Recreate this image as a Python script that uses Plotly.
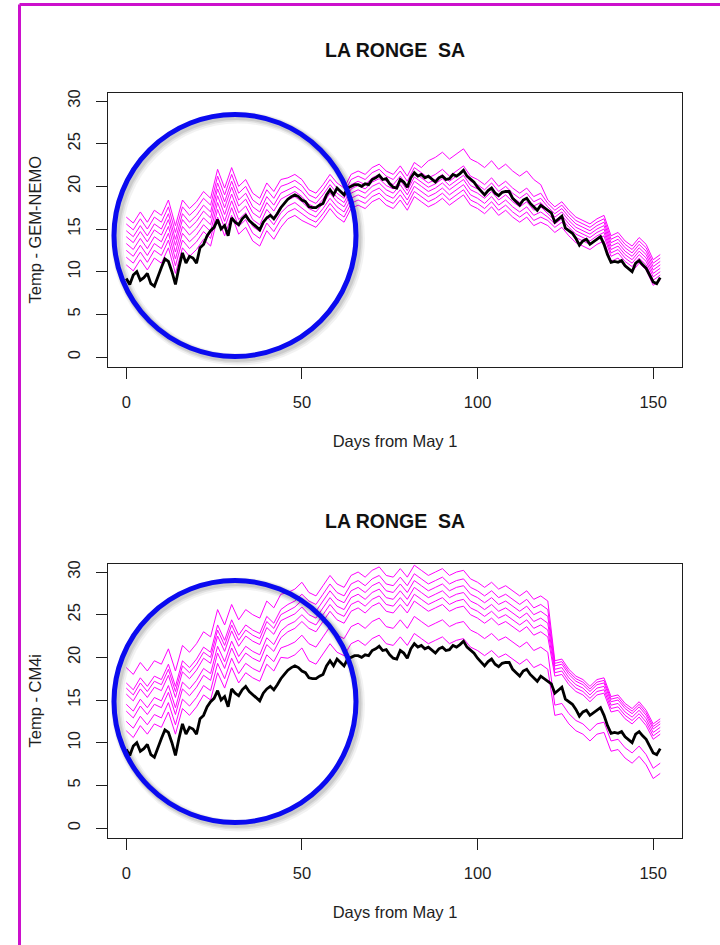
import plotly.graph_objects as go

W, H = 720, 945

# ---------------------------------------------------------------- data
STATION = "LA RONGE\u00a0\u00a0SA"
X_TITLE = "Days from May 1"
Y_TITLES = ["Temp - GEM-NEMO", "Temp - CM4i"]
X_TICKS = [0, 50, 100, 150]
Y_TICKS = [0, 5, 10, 15, 20, 25, 30]

# observed daily temperature, day 0 .. 152
days_obs = list(range(153))
obs_temp = [
    9.2, 8.5, 9.6, 10.0, 9.0, 9.3, 9.8, 8.6, 8.3, 9.5,
    10.5, 11.5, 11.2, 10.0, 8.5, 10.5, 12.2, 11.0, 11.8, 11.6,
    11.0, 12.8, 13.2, 14.2, 14.8, 15.2, 16.1, 15.0, 15.4, 14.2,
    16.3, 15.8, 15.5, 16.2, 16.6, 16.0, 15.6, 15.2, 14.9, 15.8,
    16.3, 16.6, 16.2, 16.8, 17.5, 18.0, 18.5, 18.8, 19.0, 18.8,
    18.4, 18.2, 17.6, 17.5, 17.5, 17.8, 18.0, 19.0, 19.6, 19.0,
    19.8, 19.4, 19.0, 19.8, 20.0, 20.2, 20.2, 20.0, 20.3, 20.2,
    20.8, 21.0, 21.3, 20.8, 20.9, 20.3, 19.9, 19.8, 20.8, 20.5,
    19.9, 21.0, 21.6, 21.2, 21.4, 21.0, 21.2, 20.8, 20.5, 21.0,
    21.2, 20.8, 20.9, 21.4, 21.2, 21.5, 21.9, 21.2, 20.8, 20.5,
    19.9, 19.4, 19.0, 19.5, 19.8, 19.2, 18.9, 19.3, 19.4, 19.4,
    18.6, 18.2, 17.8, 18.4, 18.6, 18.0, 17.6, 17.2, 17.8, 17.5,
    17.3, 16.9, 15.8, 16.2, 16.5, 15.1, 14.8, 14.5, 13.9, 13.1,
    13.6, 13.8, 13.2, 13.5, 13.9, 14.1, 13.2, 12.0, 11.1, 11.2,
    11.1, 11.3, 10.7, 10.4, 10.0, 11.0, 11.3, 10.8, 10.4, 9.6,
    8.8, 8.6, 9.3,
]

# ensemble members, every second day 0 .. 152
days_ens = list(range(0, 153, 2))

gem_nemo = [
    [16.4, 15.7, 17.0, 15.8, 17.2, 16.6, 18.4, 15.4, 18.4, 17.4, 18.2, 19.4, 18.6, 22.0, 19.8, 22.2, 20.0, 20.8, 19.2, 18.6, 20.4, 19.4, 20.8,
     21.0, 21.4, 20.8,
     19.6, 19.2, 20.2, 21.4, 20.4, 19.8, 21.4, 21.8, 21.4, 22.2, 22.6, 21.8, 21.4, 22.4, 21.2, 22.8, 22.2,
     23.0, 23.4, 24.0, 23.2, 23.8, 24.4, 23.2, 22.8, 22.2, 23.0, 22.0, 22.6, 21.8, 21.2, 21.8, 20.8, 20.2,
     18.4, 17.6, 18.2, 17.2, 16.4, 16.0, 15.6, 16.2, 16.6, 14.2, 14.6, 13.6, 13.0, 14.0, 13.2, 11.4, 12.0],
    [15.6, 14.9, 16.2, 15.0, 16.4, 15.8, 17.6, 14.6, 17.6, 16.6, 17.4, 18.6, 17.8, 21.2, 19.0, 21.4, 19.2, 20.0, 18.4, 17.8, 19.6, 18.6, 20.0,
     20.3, 20.7, 20.1,
     19.0, 18.6, 19.6, 20.8, 19.8, 19.2, 20.8, 21.2, 20.8, 21.6, 22.0, 21.2, 20.8, 21.8, 20.6, 22.2, 21.6,
     21.0, 21.4, 22.0, 21.2, 21.8, 22.4, 21.2, 20.8, 20.2, 21.0, 20.0, 20.6, 19.8, 19.2, 19.8, 18.8, 19.2,
     18.0, 17.2, 17.8, 16.8, 16.0, 15.6, 15.2, 15.8, 16.2, 13.8, 14.2, 13.2, 12.6, 13.6, 12.8, 11.0, 11.6],
    [14.8, 14.1, 15.4, 14.2, 15.6, 15.0, 16.8, 13.8, 16.8, 15.8, 16.6, 17.8, 17.0, 20.4, 18.2, 20.6, 18.4, 19.2, 17.6, 17.0, 18.8, 17.8, 19.2,
     19.6, 20.0, 19.4,
     18.4, 18.0, 19.0, 20.2, 19.2, 18.6, 20.2, 20.6, 20.2, 21.0, 21.4, 20.6, 20.2, 21.2, 20.0, 21.6, 21.0,
     20.4, 20.8, 21.4, 20.6, 21.2, 21.8, 20.6, 20.2, 19.6, 20.4, 19.4, 20.0, 19.2, 18.6, 19.2, 18.2, 18.6,
     17.6, 16.8, 17.4, 16.4, 15.6, 15.2, 14.8, 15.4, 15.8, 13.4, 13.8, 12.8, 12.2, 13.2, 12.4, 10.6, 11.2],
    [14.1, 13.4, 14.7, 13.5, 14.9, 14.3, 16.1, 13.1, 16.1, 15.1, 15.9, 17.1, 16.3, 19.7, 17.5, 19.9, 17.7, 18.5, 16.9, 16.3, 18.1, 17.1, 18.5,
     19.0, 19.4, 18.8,
     17.9, 17.5, 18.5, 19.7, 18.7, 18.1, 19.7, 20.1, 19.7, 20.5, 20.9, 20.1, 19.7, 20.7, 19.5, 21.1, 20.5,
     19.9, 20.3, 20.9, 20.1, 20.7, 21.3, 20.1, 19.7, 19.1, 19.9, 18.9, 19.5, 18.7, 18.1, 18.7, 17.7, 18.1,
     17.2, 16.4, 17.0, 16.0, 15.2, 14.8, 14.4, 15.0, 15.4, 13.0, 13.4, 12.4, 11.8, 12.8, 12.0, 10.2, 10.8],
    [13.3, 12.6, 13.9, 12.7, 14.1, 13.5, 15.3, 12.3, 15.3, 14.3, 15.1, 16.3, 15.5, 18.9, 16.7, 19.1, 16.9, 17.7, 16.1, 15.5, 17.3, 16.3, 17.7,
     18.4, 18.8, 18.2,
     17.4, 17.0, 18.0, 19.2, 18.2, 17.6, 19.2, 19.6, 19.2, 20.0, 20.4, 19.6, 19.2, 20.2, 19.0, 20.6, 20.0,
     19.4, 19.8, 20.4, 19.6, 20.2, 20.8, 19.6, 19.2, 18.6, 19.4, 18.4, 19.0, 18.2, 17.6, 18.2, 17.2, 17.6,
     16.8, 16.0, 16.6, 15.6, 14.8, 14.4, 14.0, 14.6, 15.0, 12.6, 13.0, 12.0, 11.4, 12.4, 11.6, 9.8, 10.4],
    [12.5, 11.8, 13.1, 11.9, 13.3, 12.7, 14.5, 11.5, 14.5, 13.5, 14.3, 15.5, 14.7, 18.1, 15.9, 18.3, 16.1, 16.9, 15.3, 14.7, 16.5, 15.5, 16.9,
     17.7, 18.1, 17.5,
     16.8, 16.4, 17.4, 18.6, 17.6, 17.0, 18.6, 19.0, 18.6, 19.4, 19.8, 19.0, 18.6, 19.6, 18.4, 20.0, 19.4,
     18.8, 19.2, 19.8, 19.0, 19.6, 20.2, 19.0, 18.6, 18.0, 18.8, 17.8, 18.4, 17.6, 17.0, 17.6, 16.6, 17.0,
     16.4, 15.6, 16.2, 15.2, 14.4, 14.0, 13.6, 14.2, 14.6, 12.2, 12.6, 11.6, 11.0, 12.0, 11.2, 9.4, 10.0],
    [11.7, 11.0, 12.3, 11.1, 12.5, 11.9, 13.7, 10.7, 13.7, 12.7, 13.5, 14.7, 13.9, 17.3, 15.1, 17.5, 15.3, 16.1, 14.5, 13.9, 15.7, 14.7, 16.1,
     17.0, 17.4, 16.8,
     16.2, 15.8, 16.8, 18.0, 17.0, 16.4, 18.0, 18.4, 18.0, 18.8, 19.2, 18.4, 18.0, 19.0, 17.8, 19.4, 18.8,
     18.2, 18.6, 19.2, 18.4, 19.0, 19.6, 18.4, 18.0, 17.4, 18.2, 17.2, 17.8, 17.0, 16.4, 17.0, 16.0, 16.4,
     16.0, 15.2, 15.8, 14.8, 14.0, 13.6, 13.2, 13.8, 14.2, 11.8, 12.2, 11.2, 10.6, 11.6, 10.8, 9.0, 9.6],
    [10.8, 10.1, 11.4, 10.2, 11.6, 11.0, 12.8, 9.8, 12.8, 11.8, 12.6, 13.8, 13.0, 16.4, 14.2, 16.6, 14.4, 15.2, 13.6, 13.0, 14.8, 13.8, 15.2,
     16.2, 16.6, 16.0,
     15.6, 15.2, 16.2, 17.4, 16.4, 15.8, 17.4, 17.8, 17.4, 18.2, 18.6, 17.8, 17.4, 18.4, 17.2, 18.8, 18.2,
     17.6, 18.0, 18.6, 17.8, 18.4, 19.0, 17.8, 17.4, 16.8, 17.6, 16.6, 17.2, 16.4, 15.8, 16.4, 15.4, 15.8,
     15.4, 14.6, 15.2, 14.2, 13.4, 13.0, 12.6, 13.2, 13.6, 11.2, 11.6, 10.6, 10.0, 11.0, 10.2, 8.4, 9.0],
]

cm4i = [
    [18.8, 18.0, 19.4, 18.4, 19.6, 19.2, 21.0, 18.4, 21.4, 20.6, 21.6, 23.0, 22.4, 25.6, 23.8, 26.2, 24.4, 25.6, 25.0, 24.6, 26.6, 25.8, 27.4,
     27.6, 28.0, 28.8,
     27.6, 27.2, 28.4, 29.6, 28.6, 28.2, 29.6, 30.0, 29.4, 30.2, 30.6, 29.6, 29.4, 30.4, 29.4, 30.8, 30.2,
     29.6, 30.0, 30.4, 29.6, 30.0, 30.2, 29.2, 28.8, 28.2, 28.8, 28.0, 28.4, 27.8, 27.2, 27.8, 26.8, 27.2,
     26.6, 19.6, 19.8, 18.6, 17.8, 17.4, 16.6, 17.4, 17.6, 15.4, 15.6, 14.6, 14.0, 14.8, 13.8, 12.2, 12.8],
    [17.0, 16.2, 17.6, 16.6, 17.8, 17.4, 19.2, 16.6, 19.6, 18.8, 19.8, 21.2, 20.6, 23.8, 22.0, 24.4, 22.6, 23.8, 23.2, 22.8, 24.8, 24.0, 25.6,
     26.2, 26.6, 27.4,
     26.6, 26.2, 27.4, 28.6, 27.6, 27.2, 28.6, 29.0, 28.4, 29.2, 29.6, 28.6, 28.4, 29.4, 28.4, 29.8, 29.2,
     28.6, 29.0, 29.4, 28.6, 29.0, 29.2, 28.2, 27.8, 27.2, 27.8, 27.0, 27.4, 26.8, 26.2, 26.8, 25.8, 26.2,
     25.6, 19.3, 19.5, 18.3, 17.5, 17.1, 16.3, 17.1, 17.3, 15.1, 15.3, 14.3, 13.7, 14.5, 13.5, 11.9, 12.5],
    [16.4, 15.6, 17.0, 16.0, 17.2, 16.8, 18.6, 16.0, 19.0, 18.2, 19.2, 20.6, 20.0, 23.2, 21.4, 23.8, 22.0, 23.2, 22.6, 22.2, 24.2, 23.4, 25.0,
     25.5, 25.9, 26.7,
     25.8, 25.4, 26.6, 27.8, 26.8, 26.4, 27.8, 28.2, 27.6, 28.4, 28.8, 27.8, 27.6, 28.6, 27.6, 29.0, 28.4,
     27.8, 28.2, 28.6, 27.8, 28.2, 28.4, 27.4, 27.0, 26.4, 27.0, 26.2, 26.6, 26.0, 25.4, 26.0, 25.0, 25.4,
     24.8, 19.0, 19.2, 18.0, 17.2, 16.8, 16.0, 16.8, 17.0, 14.8, 15.0, 14.0, 13.4, 14.2, 13.2, 11.6, 12.2],
    [15.7, 14.9, 16.3, 15.3, 16.5, 16.1, 17.9, 15.3, 18.3, 17.5, 18.5, 19.9, 19.3, 22.5, 20.7, 23.1, 21.3, 22.5, 21.9, 21.5, 23.5, 22.7, 24.3,
     24.7, 25.1, 25.9,
     25.0, 24.6, 25.8, 27.0, 26.0, 25.6, 27.0, 27.4, 26.8, 27.6, 28.0, 27.0, 26.8, 27.8, 26.8, 28.2, 27.6,
     27.0, 27.4, 27.8, 27.0, 27.4, 27.6, 26.6, 26.2, 25.6, 26.2, 25.4, 25.8, 25.2, 24.6, 25.2, 24.2, 24.6,
     24.0, 18.6, 18.8, 17.6, 16.8, 16.4, 15.6, 16.4, 16.6, 14.4, 14.6, 13.6, 13.0, 13.8, 12.8, 11.2, 11.8],
    [14.5, 13.7, 15.1, 14.1, 15.3, 14.9, 16.7, 14.1, 17.1, 16.3, 17.3, 18.7, 18.1, 21.3, 19.5, 21.9, 20.1, 21.3, 20.7, 20.3, 22.3, 21.5, 23.1,
     23.8, 24.2, 25.0,
     24.2, 23.8, 25.0, 26.2, 25.2, 24.8, 26.2, 26.6, 26.0, 26.8, 27.2, 26.2, 26.0, 27.0, 26.0, 27.4, 26.8,
     26.2, 26.6, 27.0, 26.2, 26.6, 26.8, 25.8, 25.4, 24.8, 25.4, 24.6, 25.0, 24.4, 23.8, 24.4, 23.4, 23.8,
     23.2, 18.2, 18.4, 17.2, 16.4, 16.0, 15.2, 16.0, 16.2, 14.0, 14.2, 13.2, 12.6, 13.4, 12.4, 10.8, 11.4],
    [13.7, 12.9, 14.3, 13.3, 14.5, 14.1, 15.9, 13.3, 16.3, 15.5, 16.5, 17.9, 17.3, 20.5, 18.7, 21.1, 19.3, 20.5, 19.9, 19.5, 21.5, 20.7, 22.3,
     23.0, 23.4, 24.2,
     23.4, 23.0, 24.2, 25.4, 24.4, 24.0, 25.4, 25.8, 25.2, 26.0, 26.4, 25.4, 25.2, 26.2, 25.2, 26.6, 26.0,
     25.4, 25.8, 26.2, 25.4, 25.8, 26.0, 25.0, 24.6, 24.0, 24.6, 23.8, 24.2, 23.6, 23.0, 23.6, 22.6, 23.0,
     22.4, 17.8, 18.0, 16.8, 16.0, 15.6, 14.8, 15.6, 15.8, 13.6, 13.8, 12.8, 12.2, 13.0, 12.0, 10.4, 11.0],
    [12.5, 11.7, 13.1, 12.1, 13.3, 12.9, 14.7, 12.1, 15.1, 14.3, 15.3, 16.7, 16.1, 19.3, 17.5, 19.9, 18.1, 19.3, 18.7, 18.3, 20.3, 19.5, 21.1,
     21.4, 21.8, 22.6,
     21.6, 21.2, 22.4, 23.6, 22.6, 22.2, 23.6, 24.0, 23.4, 24.2, 24.6, 23.6, 23.4, 24.4, 23.4, 24.8, 24.2,
     23.6, 24.0, 24.4, 23.6, 24.0, 24.2, 23.2, 22.8, 22.2, 22.8, 22.0, 22.4, 21.8, 21.2, 21.8, 20.8, 21.2,
     20.6, 14.4, 14.6, 13.4, 12.6, 12.2, 11.4, 12.2, 12.4, 10.2, 10.4, 9.4, 8.8, 9.6, 8.6, 7.0, 7.6],
    [11.4, 10.6, 12.0, 11.0, 12.2, 11.8, 13.6, 11.0, 14.0, 13.2, 14.2, 15.6, 15.0, 18.2, 16.4, 18.8, 17.0, 18.2, 17.6, 17.2, 19.2, 18.4, 20.0,
     19.9, 20.3, 21.1,
     19.6, 19.2, 20.4, 21.6, 20.6, 20.2, 21.6, 22.0, 21.4, 22.2, 22.6, 21.6, 21.4, 22.4, 21.4, 22.8, 22.2,
     21.6, 22.0, 22.4, 21.6, 22.0, 22.2, 21.2, 20.8, 20.2, 20.8, 20.0, 20.4, 19.8, 19.2, 19.8, 18.8, 19.2,
     18.6, 13.2, 13.4, 12.2, 11.4, 11.0, 10.2, 11.0, 11.2, 9.0, 9.2, 8.2, 7.6, 8.4, 7.4, 5.8, 6.4],
]

ensembles = [gem_nemo, cm4i]

# ---------------------------------------------------------------- style
FONT = "Liberation Sans, Arial, Helvetica, sans-serif"
INK = "#1e1e1e"
MEMBER_COLOR = "#ff00ff"
OBS_COLOR = "#000000"
RING_COLOR = "#0a0af0"
FRAME_COLOR = "#cc10cc"
BASE_SIZE = 16.5
TITLE_SIZE = 19.5


def px(x):
    return x / W


def py(y):
    return 1 - y / H


# panel boxes in pixels: (left, right) and (top, bottom)
PANEL_X = (108, 682)
PANEL_Y = [(92.5, 367.0), (563.5, 838.0)]
PANEL_SHIFT = 471

fig = go.Figure()

for k, members in enumerate(ensembles):
    xa = "x" if k == 0 else "x2"
    ya = "y" if k == 0 else "y2"
    for m in members:
        fig.add_trace(go.Scatter(
            x=days_ens, y=m, mode="lines",
            line=dict(color=MEMBER_COLOR, width=1),
            xaxis=xa, yaxis=ya, showlegend=False, hoverinfo="skip"))
    fig.add_trace(go.Scatter(
        x=days_obs, y=obs_temp, mode="lines",
        line=dict(color=OBS_COLOR, width=2.8),
        xaxis=xa, yaxis=ya, showlegend=False, hoverinfo="skip"))

axis_common = dict(
    showgrid=False, zeroline=False,
    showline=True, mirror=True, linecolor=INK, linewidth=1,
    ticks="outside", ticklen=11, tickwidth=1, tickcolor=INK,
    tickfont=dict(family=FONT, size=BASE_SIZE, color=INK),
    title_font=dict(family=FONT, size=BASE_SIZE, color=INK),
    automargin=False,
)

layout_axes = {}
for k in range(2):
    sx = "" if k == 0 else "2"
    top, bottom = PANEL_Y[k]
    layout_axes["xaxis" + sx] = dict(
        axis_common,
        domain=[px(PANEL_X[0]), px(PANEL_X[1])],
        range=[-5.2, 158.2],
        tickvals=X_TICKS,
        anchor="y" + sx,
        ticklabelstandoff=9,
        title=dict(text=X_TITLE, standoff=25),
    )
    layout_axes["yaxis" + sx] = dict(
        axis_common,
        domain=[py(bottom), py(top)],
        range=[-1.17, 31.0],
        tickvals=Y_TICKS,
        tickangle=-90,
        anchor="x" + sx,
        ticklabelstandoff=9,
        title=dict(text=Y_TITLES[k], standoff=19),
    )

annotations = []
for k in range(2):
    annotations.append(dict(
        text="<b>" + STATION + "</b>", x=px(395), y=py(50 + PANEL_SHIFT * k),
        xref="paper", yref="paper", xanchor="center", yanchor="middle",
        showarrow=False, font=dict(family=FONT, size=TITLE_SIZE, color="#111")))

shapes = []
# outer frame (left and top edges)
shapes.append(dict(type="line", xref="paper", yref="paper",
                   x0=px(19.5), x1=px(19.5), y0=py(4.5), y1=py(H + 5),
                   line=dict(color=FRAME_COLOR, width=3)))
shapes.append(dict(type="line", xref="paper", yref="paper",
                   x0=px(19.5), x1=px(W + 5), y0=py(4.5), y1=py(4.5),
                   line=dict(color=FRAME_COLOR, width=3)))

# highlight rings with a soft drop shadow
for k in range(2):
    cx, cy, r = 235, 235.5 + PANEL_SHIFT * k - (5 if k else 0), 121
    for dx, wdt, alpha in [(3, 12, 0.05), (2.5, 9, 0.07), (2, 7, 0.09)]:
        shapes.append(dict(type="circle", xref="paper", yref="paper",
                           x0=px(cx - r + dx), x1=px(cx + r + dx),
                           y0=py(cy + r + dx), y1=py(cy - r + dx),
                           line=dict(color="rgba(0,0,0,%.2f)" % alpha, width=wdt)))
    shapes.append(dict(type="circle", xref="paper", yref="paper",
                       x0=px(cx - r), x1=px(cx + r),
                       y0=py(cy + r), y1=py(cy - r),
                       line=dict(color=RING_COLOR, width=5)))

fig.update_layout(
    width=W, height=H,
    margin=dict(l=0, r=0, t=0, b=0),
    paper_bgcolor="white", plot_bgcolor="white",
    font=dict(family=FONT, color=INK),
    annotations=annotations, shapes=shapes,
    **layout_axes,
)

fig.write_html("out.html", config={"displayModeBar": False})
